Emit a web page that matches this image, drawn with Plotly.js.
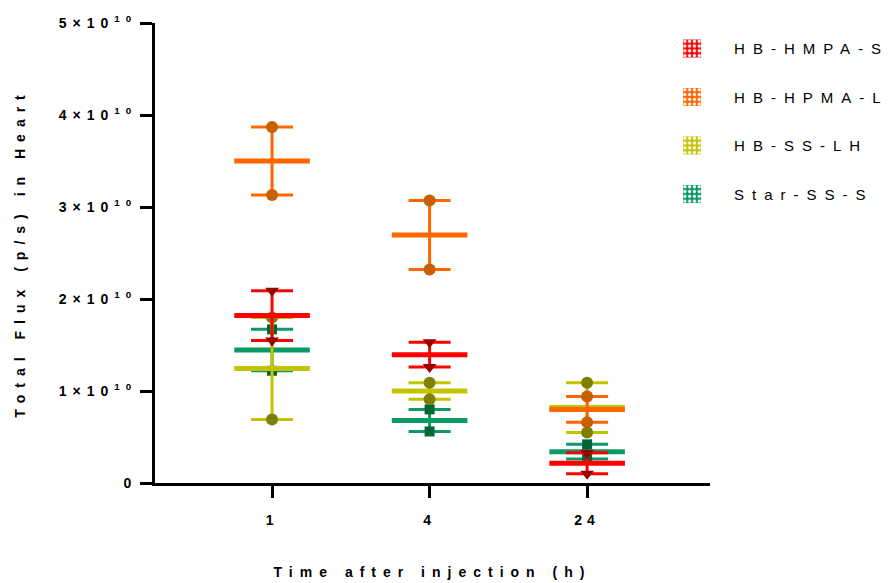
<!DOCTYPE html>
<html>
<head>
<meta charset="utf-8">
<script src="https://cdn.plot.ly/plotly-3.0.1.min.js"></script>
<style>
  body { margin: 0; background: #fff; }
  #chart { width: 891px; height: 583px; }
  .xtitle, .ytitle { letter-spacing: 7px; }
  .legendtext { letter-spacing: 8px; }
  .xtick text { letter-spacing: 5px; }
  .ytick text { letter-spacing: 6px; }
</style>
</head>
<body>
<div id="chart"></div>
<script>
// Time points (h)
const timeLabels = ['1', '4', '24'];
// Series names (legend order)
const seriesNames = ['HB-HMPA-S', 'HB-HPMA-L', 'HB-SS-LH', 'Star-SS-S'];
const hmpaS_rep1 = [2.09e10, 1.53e10, 0.33e10];
const hmpaS_rep2 = [1.55e10, 1.26e10, 0.10e10];
const hpmaL_rep1 = [3.87e10, 3.07e10, 0.94e10];
const hpmaL_rep2 = [3.13e10, 2.32e10, 0.66e10];
const ssLH_rep1  = [1.80e10, 1.09e10, 1.09e10];
const ssLH_rep2  = [0.69e10, 0.91e10, 0.55e10];
const starS_rep1 = [1.67e10, 0.80e10, 0.42e10];
const starS_rep2 = [1.22e10, 0.56e10, 0.26e10];
// Y tick labels
const yTickVals = [0, 1e10, 2e10, 3e10, 4e10, 5e10];
const yTickText = ['0', '1×10<sup>10</sup>', '2×10<sup>10</sup>', '3×10<sup>10</sup>', '4×10<sup>10</sup>', '5×10<sup>10</sup>'];

const lineColors = ['#ff0000', '#ff6600', '#c3c300', '#0b9966'];
const markerColors = ['#990000', '#c86000', '#808000', '#006633'];
const markerSymbols = ['triangle-down', 'circle', 'circle', 'square'];
const reps = [[hmpaS_rep1, hmpaS_rep2], [hpmaL_rep1, hpmaL_rep2], [ssLH_rep1, ssLH_rep2], [starS_rep1, starS_rep2]];

const traces = [];
// legend entries
seriesNames.forEach((name, i) => {
  traces.push({
    type: 'bar', x: [timeLabels[0]], y: [null], name: name,
    legendgroup: 'g' + i,
    marker: { color: lineColors[i], line: { width: 0 },
      pattern: { shape: '.', fgcolor: '#ffffff', bgcolor: lineColors[i], size: 4, solidity: 0.35 } },
    hoverinfo: 'skip'
  });
});
// draw order: green, yellow, orange, red (red on top)
[3, 2, 1, 0].forEach(i => {
  const [a, b] = reps[i];
  const mean = a.map((v, k) => (v + b[k]) / 2);
  const sem = a.map((v, k) => Math.abs(v - b[k]) / 2);
  traces.push({
    type: 'scatter', mode: 'markers', x: timeLabels, y: mean, showlegend: false,
    marker: { symbol: 'line-ew', size: 54, line: { width: 5, color: lineColors[i] }, color: lineColors[i] },
    error_y: { type: 'data', array: sem, visible: true, color: lineColors[i], thickness: 3, width: 21 },
    hoverinfo: 'skip'
  });
  traces.push({
    type: 'scatter', mode: 'markers', showlegend: false,
    x: timeLabels.concat(timeLabels), y: a.concat(b),
    marker: { symbol: markerSymbols[i], size: markerSymbols[i] === 'square' ? 10 : 12, color: markerColors[i], line: { width: 0 } },
    hoverinfo: 'skip'
  });
});

const layout = {
  width: 891, height: 583,
  margin: { l: 155, r: 181, t: 23, b: 100, autoexpand: false },
  paper_bgcolor: '#ffffff', plot_bgcolor: '#ffffff',
  font: { family: 'Liberation Sans, Arial, sans-serif', color: '#000' },
  showlegend: true,
  legend: { x: 0.892, xanchor: 'left', y: 0.98, yanchor: 'top', xref: 'paper',
    font: { size: 15, color: '#000' }, traceorder: 'grouped', tracegroupgap: 26,
    itemwidth: 74, borderwidth: 0, bgcolor: 'rgba(0,0,0,0)' },
  xaxis: {
    type: 'category', range: [-0.743, 2.78], showgrid: false, zeroline: false,
    showline: true, linecolor: '#000', linewidth: 3,
    ticks: 'outside', ticklen: 12, tickwidth: 3, tickcolor: '#000',
    tickfont: { size: 14, family: 'Liberation Sans, Arial, sans-serif', weight: 'bold' },
    ticklabelstandoff: 10,
    title: { text: 'Time after injection (h)', standoff: 41,
      font: { size: 14, weight: 'bold', family: 'Liberation Sans, Arial, sans-serif' } }
  },
  yaxis: {
    range: [0, 5e10], showgrid: false, zeroline: false,
    showline: true, linecolor: '#000', linewidth: 3,
    ticks: 'outside', ticklen: 12, tickwidth: 3, tickcolor: '#000',
    tickmode: 'array', tickvals: yTickVals, ticktext: yTickText,
    tickfont: { size: 14, family: 'Liberation Sans, Arial, sans-serif', weight: 'bold' },
    title: { text: 'Total Flux (p/s) in Heart', standoff: 30,
      font: { size: 14, weight: 'bold', family: 'Liberation Sans, Arial, sans-serif' } }
  },
  bargap: 0.5
};

Plotly.newPlot('chart', traces, layout, { displayModeBar: false, staticPlot: true }).then(gd => {
  gd.querySelectorAll('.legend .legendpoints path').forEach(p => {
    const t = p.getAttribute('transform') || '';
    p.setAttribute('transform', t + ' scale(1.5)');
  });
});
</script>
</body>
</html>
